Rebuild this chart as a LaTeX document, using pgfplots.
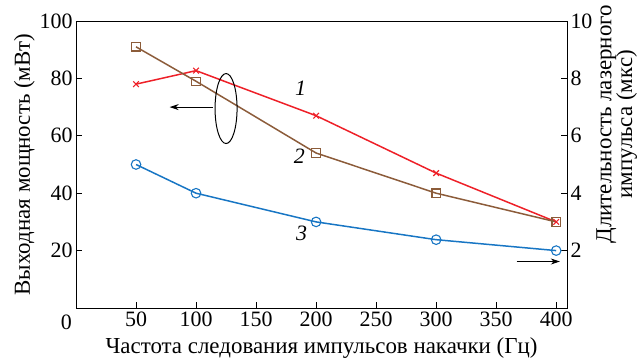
\documentclass[border=0pt]{standalone}
\usepackage{pgfplots}
\pgfplotsset{compat=1.18}
\usetikzlibrary{arrows.meta}
\usepackage{fontspec}
\setmainfont{Liberation Serif}
\definecolor{cred}{RGB}{238,32,40}
\definecolor{cbrown}{RGB}{140,92,58}
\definecolor{cblue}{RGB}{24,118,196}
\begin{document}
\begin{tikzpicture}
\path[use as bounding box] (-76bp,-52bp) rectangle (563bp,308bp);
\pgfplotsset{every axis/.append style={
  scale only axis, width=491bp, height=287bp, at={(0,0)}, anchor=south west,
  xmin=0, xmax=409, ymin=0,
  /pgf/number format/assume math mode=true,
  tick label style={font=\fontsize{22}{24}\selectfont},
  label style={font=\fontsize{23}{24}\selectfont},
  major tick length=6bp, tick style={black, line width=0.8pt},
  axis line style={line width=1pt},
}}
\begin{axis}[
  ymax=100,
  xtick={50,100,150,200,250,300,350,400},
  ytick={20,40,60,80,100},
  xtick pos=bottom, ytick pos=left,
  xlabel={Частота следования импульсов накачки (Гц)},
  ylabel={Выходная мощность (мВт)},
  xlabel style={yshift=-4bp},
  ylabel style={yshift=-2bp},
  clip=false,
]
\addplot[cred, line width=1.5pt, mark=x, mark size=4pt, mark options={line width=1.1pt}] coordinates {(50,78) (100,82.7) (200,67) (300,47) (400,30)};
\addplot[cbrown, line width=1.5pt, mark=square, mark size=4.2pt, mark options={line width=1.1pt, fill=white}] coordinates {(50,91) (100,79) (200,54) (300,40) (400,30)};
\node[anchor=north, font=\fontsize{22}{24}\selectfont] at (axis cs:-8,0) [yshift=-3bp] {0};
\node[font=\fontsize{22}{24}\selectfont\itshape] at (axis cs:187,76.5) {1};
\node[font=\fontsize{22}{24}\selectfont\itshape] at (axis cs:186,53) {2};
\node[font=\fontsize{22}{24}\selectfont\itshape] at (axis cs:188,26) {3};
\draw[black, line width=1pt] (axis cs:125,69.5) ellipse [x radius=11bp, y radius=35bp];
\draw[black, line width=1pt, -{Stealth[length=9bp,width=6bp]}] (axis cs:114,70) -- (axis cs:78,70);
\end{axis}
\begin{axis}[
  ymax=10,
  axis x line=none,
  axis y line*=right,
  ytick={2,4,6,8,10},
  ytick pos=right,
  ylabel={Длительность лазерного\\импульса (мкс)},
  ylabel style={align=center, at={(ticklabel cs:0.64)}, font=\fontsize{23}{21}\selectfont, yshift=3bp},
  clip=false,
]
\addplot[cblue, line width=1.5pt, mark=o, mark size=4.8pt, mark options={line width=1.1pt, fill=white}] coordinates {(50,5.0) (100,4.0) (200,3.0) (300,2.38) (400,2.0)};
\draw[black, line width=1pt, -{Stealth[length=9bp,width=6bp]}] (axis cs:367,1.62) -- (axis cs:403,1.62);
\end{axis}
\end{tikzpicture}
\end{document}
